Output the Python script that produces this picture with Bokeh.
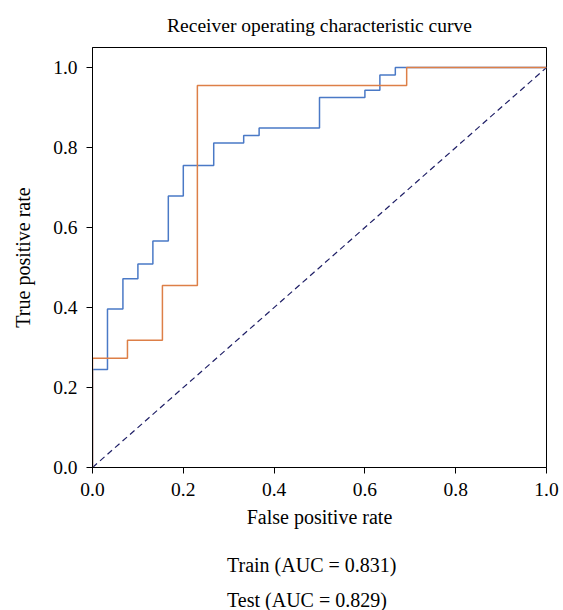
from bokeh.plotting import figure
from bokeh.layouts import column
from bokeh.models import (Range1d, FixedTicker, PrintfTickFormatter, Legend,
                          LegendItem)
from bokeh.embed import file_html
from bokeh.resources import INLINE

# ---- data ----
train_fpr = [0.0, 0.0, 0.033, 0.033, 0.067, 0.067, 0.100, 0.100, 0.133, 0.133,
             0.167, 0.167, 0.200, 0.200, 0.267, 0.267, 0.333, 0.333, 0.367, 0.367,
             0.500, 0.500, 0.600, 0.600, 0.633, 0.633, 0.667, 0.667, 1.0]
train_tpr = [0.0, 0.245, 0.245, 0.396, 0.396, 0.472, 0.472, 0.509, 0.509, 0.566,
             0.566, 0.679, 0.679, 0.755, 0.755, 0.811, 0.811, 0.830, 0.830, 0.849,
             0.849, 0.925, 0.925, 0.943, 0.943, 0.981, 0.981, 1.0, 1.0]
test_fpr = [0.0, 0.0, 0.077, 0.077, 0.154, 0.154, 0.231, 0.231, 0.692, 0.692, 1.0]
test_tpr = [0.0, 0.273, 0.273, 0.318, 0.318, 0.455, 0.455, 0.955, 0.955, 1.0, 1.0]
chance_x = [0.0, 1.0]
chance_y = [0.0, 1.0]
series_labels = ["Train (AUC = 0.831)", "Test (AUC = 0.829)"]
x_ticks = [0.0, 0.2, 0.4, 0.6, 0.8, 1.0]
y_ticks = [0.0, 0.2, 0.4, 0.6, 0.8, 1.0]
title_text = "Receiver operating characteristic curve"
x_label = "False positive rate"
y_label = "True positive rate"

# ---- layout constants ----
FRAME_L, FRAME_T, FRAME_W, FRAME_H = 92, 42, 454, 420
TOTAL_W = 563
MAIN_BOTTOM = 68
LEGEND_H = 80
Y_MAX = 1.05

SERIF = "Liberation Serif"
BLUE = "#4a79c6"
ORANGE = "#dd7f47"

p = figure(frame_width=FRAME_W, frame_height=FRAME_H,
           min_border_left=FRAME_L, min_border_right=TOTAL_W - FRAME_L - FRAME_W,
           min_border_top=FRAME_T, min_border_bottom=MAIN_BOTTOM,
           x_range=Range1d(0, 1), y_range=Range1d(0, Y_MAX),
           output_backend="svg", toolbar_location=None,
           title=title_text)

p.background_fill_color = "white"
p.border_fill_color = "white"
p.outline_line_color = "black"
p.outline_line_width = 1
p.outline_line_alpha = 1
p.xgrid.grid_line_color = None
p.ygrid.grid_line_color = None

p.title.align = "center"
p.title.text_font = SERIF
p.title.text_font_size = "19.5px"
p.title.text_font_style = "normal"
p.title.text_color = "black"
p.title.standoff = 24

for ax, ticks, lab in ((p.xaxis[0], x_ticks, x_label), (p.yaxis[0], y_ticks, y_label)):
    ax.ticker = FixedTicker(ticks=ticks)
    ax.formatter = PrintfTickFormatter(format="%.1f")
    ax.minor_tick_line_color = None
    ax.major_tick_in = 0
    ax.major_tick_out = 6
    ax.major_tick_line_color = "black"
    ax.axis_line_color = "black"
    ax.major_label_text_font = SERIF
    ax.major_label_text_font_size = "19.5px"
    ax.major_label_text_color = "black"
    ax.axis_label = lab
    ax.axis_label_text_font = SERIF
    ax.axis_label_text_font_size = "20px"
    ax.axis_label_text_font_style = "normal"
    ax.axis_label_text_color = "black"

p.xaxis[0].major_label_standoff = 9
p.xaxis[0].axis_label_standoff = 7
p.yaxis[0].major_label_standoff = 9
p.yaxis[0].axis_label_standoff = 16

p.line(chance_x, chance_y, line_color="#1f1f66", line_width=1.2, line_dash="6 4")
p.line(train_fpr, train_tpr, line_color=BLUE, line_width=1.5)
p.line(test_fpr, test_tpr, line_color=ORANGE, line_width=1.5)

# ---- legend strip under the chart (its own frame, so nothing is clipped) ----
q = figure(width=TOTAL_W, height=LEGEND_H, min_border=0,
           x_range=Range1d(0, 1), y_range=Range1d(0, 1),
           x_axis_location=None, y_axis_location=None,
           output_backend="svg", toolbar_location=None)
q.outline_line_color = None
q.background_fill_color = "white"
q.border_fill_color = "white"
q.xgrid.grid_line_color = None
q.ygrid.grid_line_color = None
k_train = q.line(x=[], y=[], line_color=BLUE, line_width=1.5)
k_test = q.line(x=[], y=[], line_color=ORANGE, line_width=1.5)

legend = Legend(items=[LegendItem(label=series_labels[0], renderers=[k_train]),
                       LegendItem(label=series_labels[1], renderers=[k_test])],
                location=(FRAME_L + 1, 3), orientation="vertical",
                border_line_alpha=0, background_fill_alpha=0,
                label_text_font=SERIF, label_text_font_size="20px",
                label_text_color="black",
                glyph_width=29, glyph_height=20, label_height=20,
                label_standoff=13, spacing=12, padding=0, margin=0)
q.add_layout(legend, "center")

layout = column(p, q, spacing=0)
open("out.html", "w").write(file_html(layout, INLINE))
